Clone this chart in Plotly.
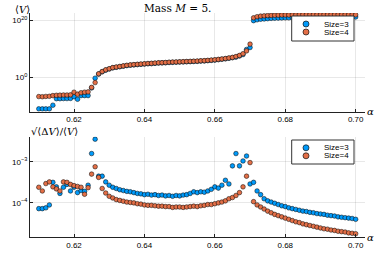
import plotly.graph_objects as go

alpha = [round(0.610 + 0.001 * i, 3) for i in range(91)]

# Top panel: log10 <V>
v_size3_log10 = [
    -11.2, -11.2, -11.2, -11.2, -9.9, -7.6, -7.6, -7.55, -7.55, -7.5,
    -6.9, -7.8, -6.5, -6.5, -6.5, -3.8, -0.35, 1.1, 1.9, 2.5,
    2.9, 3.3, 3.5, 3.7, 3.9, 4.1, 4.25, 4.35, 4.45, 4.55,
    4.65, 4.75, 4.8, 4.9, 5.0, 5.05, 5.1, 5.2, 5.25, 5.3,
    5.35, 5.4, 5.45, 5.5, 5.55, 5.6, 5.7, 5.75, 5.85, 5.95,
    6.05, 6.2, 6.35, 6.5, 6.7, 6.9, 7.1, 7.5, 8.0, 9.8,
    10.5, 20.0, 20.3, 20.5, 20.6, 20.7, 20.8, 20.85, 20.9, 20.95,
    21.0, 21.0, 21.05, 21.05, 21.1, 21.1, 21.1, 21.15, 21.15, 21.15,
    21.2, 21.2, 21.2, 21.2, 21.2, 21.25, 21.25, 21.25, 21.25, 21.3,
    21.3,
]
v_size4_log10 = [
    -6.85, -6.9, -6.8, -6.75, -6.5, -6.4, -6.35, -6.3, -6.3, -6.25,
    -5.3, -6.0, -5.5, -5.3, -5.2, -3.6, -1.9, 1.2, 2.0, 2.6,
    3.0, 3.4, 3.6, 3.8, 4.0, 4.2, 4.35, 4.45, 4.55, 4.65,
    4.75, 4.85, 4.9, 5.0, 5.1, 5.15, 5.2, 5.3, 5.35, 5.4,
    5.45, 5.5, 5.55, 5.6, 5.65, 5.7, 5.8, 5.85, 5.95, 6.05,
    6.15, 6.3, 6.45, 6.6, 6.8, 7.0, 7.3, 7.7, 8.3, 9.3,
    11.7, 21.0, 21.4, 21.6, 21.7, 21.8, 21.85, 21.9, 21.95, 22.0,
    22.0, 22.0, 22.0, 22.0, 22.05, 22.05, 22.05, 22.05, 22.05, 22.05,
    22.05, 22.05, 22.05, 22.05, 22.05, 22.05, 22.05, 22.05, 22.05, 22.05,
    22.05,
]

# Bottom panel: log10 sqrt(<dV>)/<V>
r_size3_log10 = [
    -4.14, -4.14, -4.12, -4.05, -3.5, -3.61, -3.77, -3.62, -3.55, -3.71,
    -3.62, -3.75, -3.7, -3.72, -3.57, -2.8, -2.45, -3.35, -3.35, -3.49,
    -3.57, -3.62, -3.65, -3.68, -3.7, -3.72, -3.73, -3.75, -3.77, -3.78,
    -3.8, -3.79, -3.81, -3.8, -3.82, -3.81, -3.83, -3.82, -3.84, -3.82,
    -3.83, -3.81, -3.8, -3.77, -3.73, -3.75, -3.73, -3.74, -3.71, -3.67,
    -3.61, -3.64, -3.57, -3.45, -3.54, -3.1, -2.8, -3.1, -2.98, -2.86,
    -3.54, -3.5, -3.71, -3.8, -3.9, -3.95, -3.98, -4.01, -4.04, -4.07,
    -4.09, -4.12, -4.14, -4.16, -4.18, -4.2, -4.21, -4.23, -4.24, -4.26,
    -4.27, -4.28, -4.3, -4.31, -4.32, -4.34, -4.35, -4.36, -4.37, -4.38,
    -4.4,
]
r_size4_log10 = [
    -3.62, -3.71, -3.53, -3.49, -3.61, -3.66, -3.71, -3.49, -3.5, -3.55,
    -3.58, -3.6, -3.62, -3.79, -3.63, -3.3, -3.12, -3.38, -3.65, -3.76,
    -3.84, -3.88, -3.92, -3.94, -3.96, -3.98, -3.99, -4.0, -4.02, -4.03,
    -4.05, -4.06, -4.06, -4.07, -4.08, -4.08, -4.09, -4.09, -4.11, -4.1,
    -4.1, -4.11, -4.1, -4.09, -4.08, -4.09, -4.07, -4.06, -4.04, -4.04,
    -4.02, -4.0, -3.98, -3.95, -3.9, -3.87, -3.82, -3.75, -3.61, -3.35,
    -3.02, -3.97, -4.05, -4.1, -4.15, -4.2, -4.24, -4.28, -4.31, -4.34,
    -4.37, -4.4, -4.43, -4.46, -4.48, -4.51, -4.53, -4.55, -4.57, -4.59,
    -4.61, -4.63, -4.64, -4.66, -4.67, -4.69, -4.7, -4.71, -4.73, -4.74,
    -4.75,
]

series_names = ["Size=3", "Size=4"]
colors = ["#009AFA", "#E36F47"]
x_ticks = [0.62, 0.64, 0.66, 0.68, 0.70]
x_ticktext = ["0.62", "0.64", "0.66", "0.68", "0.70"]
top_ticks = [1e0, 1e20]
top_ticktext = ["10<sup>0</sup>", "10<sup>20</sup>"]
bot_ticks = [1e-4, 1e-3]
bot_ticktext = ["10<sup>−4</sup>", "10<sup>−3</sup>"]

W, H = 374, 254
ML, MR, MT, MB = 30, 9, 13, 17
PW, PH = W - ML - MR, H - MT - MB
SANS = "Liberation Sans"


def px_x(px):
    return (px - ML) / PW


def px_y(py):
    return (H - MB - py) / PH


fig = go.Figure()
marker_line = dict(color="rgba(0,0,0,0.85)", width=0.6)
for name, col, ys in zip(series_names, colors, [v_size3_log10, v_size4_log10]):
    fig.add_trace(go.Scatter(
        x=alpha, y=[10 ** v for v in ys], mode="markers", name=name,
        marker=dict(color=col, size=4.6, line=marker_line),
        xaxis="x", yaxis="y", showlegend=False,
    ))
for name, col, ys in zip(series_names, colors, [r_size3_log10, r_size4_log10]):
    fig.add_trace(go.Scatter(
        x=alpha, y=[10 ** v for v in ys], mode="markers", name=name,
        marker=dict(color=col, size=4.6, line=marker_line),
        xaxis="x2", yaxis="y2", showlegend=False,
    ))

axis_common = dict(
    showline=True, linecolor="#222", linewidth=1, mirror=False,
    showgrid=True, gridcolor="rgba(0,0,0,0.09)", gridwidth=0.5,
    ticks="inside", ticklen=3, tickcolor="#222", tickwidth=0.8,
    zeroline=False, automargin=False,
    tickfont=dict(family=SANS, size=8, color="#000"),
)
xr = [0.6075, 0.70265]
fig.update_layout(
    width=W, height=H,
    margin=dict(l=ML, r=MR, t=MT, b=MB, autoexpand=False),
    paper_bgcolor="white", plot_bgcolor="white",
    xaxis=dict(domain=[0, 1], range=xr, anchor="y", tickvals=x_ticks,
               ticktext=x_ticktext, **axis_common),
    yaxis=dict(domain=[px_y(111.7), 1], type="log", range=[-12.2, 22.7], anchor="x",
               tickvals=top_ticks, ticktext=top_ticktext, **axis_common),
    xaxis2=dict(domain=[0, 1], range=xr, anchor="y2", tickvals=x_ticks,
                ticktext=x_ticktext, **axis_common),
    yaxis2=dict(domain=[0, px_y(136.7)], type="log", range=[-4.83, -2.39], anchor="x2",
                tickvals=bot_ticks, ticktext=bot_ticktext, **axis_common),
    showlegend=False,
)

# Legends drawn as boxes (one per panel, as in the reference)
for top, bottom, rows in [(16, 41, (24, 32)), (140, 164, (147.8, 155.8))]:
    fig.add_shape(type="rect", xref="paper", yref="paper",
                  x0=px_x(291.7), x1=px_x(354), y0=px_y(bottom), y1=px_y(top),
                  line=dict(color="#333", width=1), fillcolor="white", layer="above")
    for name, col, ry in zip(series_names, colors, rows):
        fig.add_shape(type="circle", xref="paper", yref="paper",
                      xsizemode="pixel", ysizemode="pixel",
                      xanchor=px_x(306), yanchor=px_y(ry),
                      x0=-3, x1=3, y0=-3, y1=3,
                      fillcolor=col, line=dict(color="#111", width=0.7), layer="above")
        fig.add_annotation(text=name, xref="paper", yref="paper",
                           x=px_x(321.5), y=px_y(ry), xanchor="left", yanchor="middle",
                           showarrow=False,
                           font=dict(family=SANS, size=8, color="#000"))

serif = dict(family="DejaVu Serif", size=10, color="#000")
fig.add_annotation(text="Mass <i>M</i> = 5.", xref="paper", yref="paper",
                   x=px_x(177), y=1.0, yanchor="bottom", showarrow=False,
                   font=dict(family="DejaVu Serif", size=10.5, color="#000"), yshift=-3)
fig.add_annotation(text="⟨<i>V</i>⟩", xref="paper", yref="paper",
                   x=px_x(13), y=1.0, yanchor="bottom", showarrow=False,
                   font=serif, yshift=-4)
fig.add_annotation(text="√⟨Δ<i>V</i>⟩/⟨<i>V</i>⟩", xref="paper", yref="paper",
                   x=px_x(29), y=px_y(136.7), yanchor="bottom", showarrow=False,
                   font=serif, yshift=-2)
for yy in [px_y(111.7), 0.0]:
    fig.add_annotation(text="<i>α</i>", xref="paper", yref="paper",
                       x=1.0, y=yy, xanchor="left", yanchor="middle",
                       showarrow=False, font=serif, xshift=0)

fig.write_html(
    "out.html",
    config={"displayModeBar": False},
    post_script="document.body.style.margin='0px';document.body.style.overflow='hidden';",
)
